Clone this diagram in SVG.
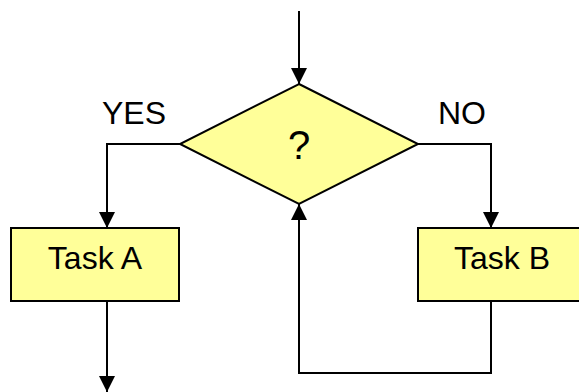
<svg xmlns="http://www.w3.org/2000/svg" width="579" height="392" viewBox="0 0 579 392">
<style>
.shape{fill:#FFFF99;stroke:#000;stroke-width:2}
.conn{fill:none;stroke:#000;stroke-width:2}
text{font-family:"Liberation Sans",Arial,sans-serif;font-size:32px;fill:#000;text-anchor:middle}
.q{font-size:40px}
</style>
<defs>
<marker id="arr" markerUnits="userSpaceOnUse" markerWidth="16" markerHeight="16" viewBox="0 0 16 16" refX="16" refY="8" orient="auto">
<path d="M0,0 L16,8 L0,16 Z" fill="#000"/>
</marker>
</defs>
<rect width="579" height="392" fill="#fff"/>
<g id="decision">
<polygon class="shape" points="299,84 418,144 299,204 180,144"/>
<text class="q" x="299" y="159">?</text>
</g>
<g id="taskA">
<rect class="shape" x="11" y="228" width="168" height="73"/>
<text x="95" y="269">Task A</text>
</g>
<g id="taskB">
<rect class="shape" x="418" y="228" width="170" height="73"/>
<text x="502" y="269">Task B</text>
</g>
<g id="labels">
<text x="134" y="124">YES</text>
<text x="462" y="124">NO</text>
</g>
<g id="connectors">
<path class="conn" d="M299,11 L299,84" marker-end="url(#arr)"/>
<path class="conn" d="M180,144 L107,144 L107,228" marker-end="url(#arr)"/>
<path class="conn" d="M418,144 L491,144 L491,228" marker-end="url(#arr)"/>
<path class="conn" d="M107,301 L107,392" marker-end="url(#arr)"/>
<path class="conn" d="M491,301 L491,373 L299,373 L299,204" marker-end="url(#arr)"/>
</g>
</svg>
